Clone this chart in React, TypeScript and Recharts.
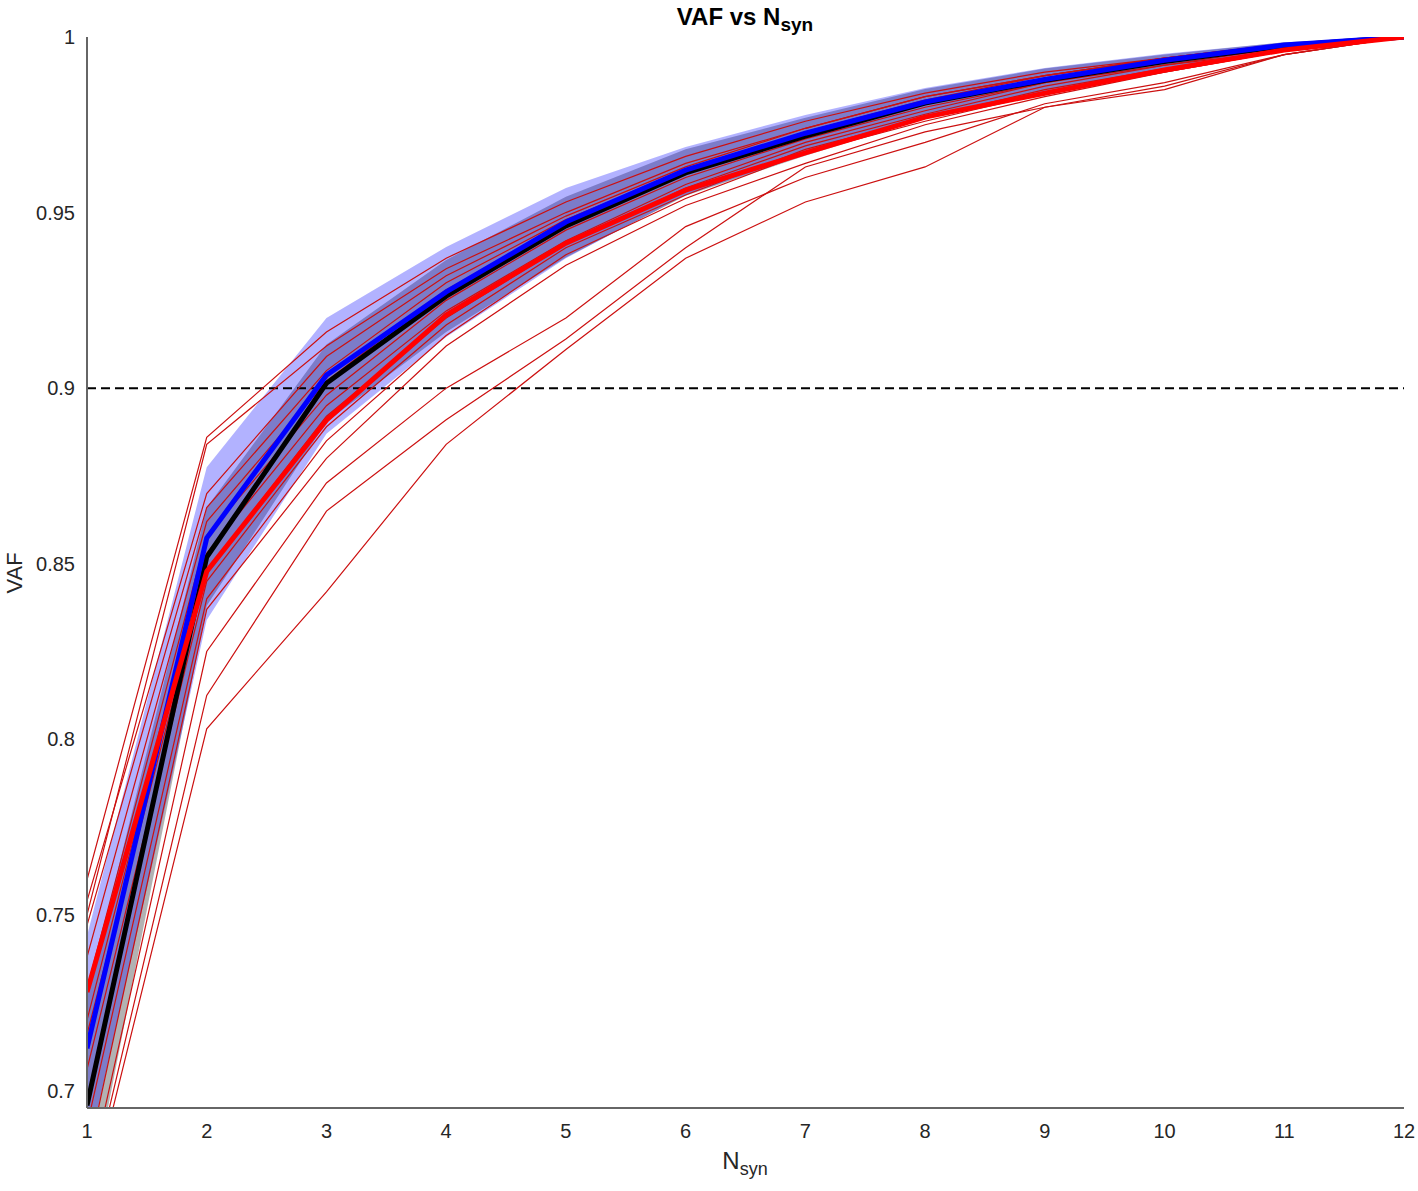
import React from 'react';
import {
  ComposedChart,
  Line,
  Area,
  XAxis,
  YAxis,
  ReferenceLine,
} from 'recharts';

const nSyn = [1, 2, 3, 4, 5, 6, 7, 8, 9, 10, 11, 12];

// group means
const blackMean = [0.6957, 0.8519, 0.9014, 0.9262, 0.9462, 0.9613, 0.9718, 0.9812, 0.9877, 0.993, 0.9975, 1];
const blueMean = [0.712, 0.8573, 0.9037, 0.9274, 0.9473, 0.9621, 0.9726, 0.9815, 0.9879, 0.9934, 0.9977, 1];
const redMean = [0.728, 0.8478, 0.8909, 0.9208, 0.9413, 0.9564, 0.967, 0.9772, 0.984, 0.9906, 0.9963, 1];

// spread bands (mean +- sd)
const grayLow = [0.6647, 0.838, 0.8904, 0.916, 0.9372, 0.9548, 0.9662, 0.9768, 0.9843, 0.991, 0.9962, 1];
const grayHigh = [0.727, 0.866, 0.9124, 0.9365, 0.9545, 0.968, 0.977, 0.9852, 0.991, 0.995, 0.9985, 1];
const blueLow = [0.681, 0.834, 0.887, 0.9146, 0.937, 0.955, 0.9665, 0.977, 0.9845, 0.9912, 0.9962, 1];
const blueHigh = [0.744, 0.8775, 0.92, 0.9402, 0.957, 0.9687, 0.9778, 0.9855, 0.9912, 0.9952, 0.9985, 1];

// individual subjects
const subject01 = [0.76, 0.886, 0.916, 0.937, 0.953, 0.966, 0.976, 0.984, 0.99, 0.994, 0.998, 1];
const subject02 = [0.75, 0.884, 0.912, 0.934, 0.95, 0.964, 0.974, 0.983, 0.989, 0.994, 0.998, 1];
const subject03 = [0.754, 0.87, 0.909, 0.932, 0.949, 0.963, 0.974, 0.983, 0.989, 0.994, 0.998, 1];
const subject04 = [0.747, 0.866, 0.905, 0.93, 0.948, 0.962, 0.973, 0.982, 0.989, 0.994, 0.997, 1];
const subject05 = [0.738, 0.862, 0.902, 0.928, 0.946, 0.961, 0.972, 0.981, 0.988, 0.993, 0.997, 1];
const subject06 = [0.729, 0.858, 0.898, 0.925, 0.945, 0.96, 0.971, 0.98, 0.987, 0.993, 0.997, 1];
const subject07 = [0.72, 0.853, 0.895, 0.922, 0.942, 0.958, 0.97, 0.979, 0.987, 0.992, 0.997, 1];
const subject08 = [0.716, 0.848, 0.892, 0.92, 0.941, 0.957, 0.969, 0.978, 0.986, 0.992, 0.996, 1];
const subject09 = [0.706, 0.845, 0.889, 0.918, 0.94, 0.955, 0.968, 0.977, 0.985, 0.991, 0.996, 1];
const subject10 = [0.69, 0.84, 0.885, 0.915, 0.938, 0.954, 0.967, 0.976, 0.984, 0.99, 0.996, 1];
const subject11 = [0.68, 0.837, 0.88, 0.912, 0.935, 0.952, 0.964, 0.975, 0.983, 0.99, 0.996, 1];
const subject12 = [0.672, 0.825, 0.873, 0.9, 0.92, 0.946, 0.96, 0.97, 0.981, 0.987, 0.995, 1];
const subject13 = [0.668, 0.8125, 0.865, 0.891, 0.914, 0.94, 0.963, 0.973, 0.98, 0.986, 0.995, 1];
const subject14 = [0.665, 0.803, 0.842, 0.884, 0.911, 0.937, 0.953, 0.963, 0.98, 0.985, 0.995, 1];

const subjects = [
  subject01, subject02, subject03, subject04, subject05, subject06, subject07,
  subject08, subject09, subject10, subject11, subject12, subject13, subject14,
];

const yTicks = [0.7, 0.75, 0.8, 0.85, 0.9, 0.95, 1];

const data = nSyn.map((n, i) => {
  const row: Record<string, any> = {
    n,
    black: blackMean[i],
    blue: blueMean[i],
    red: redMean[i],
    grayBand: [grayLow[i], grayHigh[i]],
    blueBand: [blueLow[i], blueHigh[i]],
  };
  subjects.forEach((s, k) => {
    row['s' + k] = s[i];
  });
  return row;
});

const font = 'Liberation Sans, Arial, Helvetica, sans-serif';

export default function App() {
  return (
    <div style={{ position: 'absolute', left: 0, top: 0, width: 1418, height: 1191, fontFamily: font, color: '#000' }}>
      <ComposedChart
        width={1418}
        height={1191}
        data={data}
        margin={{ top: 37, right: 14, bottom: 0, left: 0 }}
      >
        <XAxis
          dataKey="n"
          type="number"
          domain={[1, 12]}
          ticks={nSyn}
          allowDataOverflow
          height={83}
          tickLine={false}
          tickSize={0}
          tickMargin={16}
          axisLine={{ stroke: '#666', strokeWidth: 2 }}
          tick={{ fill: '#262626', fontSize: 20, fontFamily: font }}
        />
        <YAxis
          type="number"
          domain={[0.695, 1]}
          ticks={yTicks}
          allowDataOverflow
          width={87}
          tickLine={false}
          tickSize={0}
          tickMargin={12}
          axisLine={{ stroke: '#666', strokeWidth: 2 }}
          tick={{ fill: '#262626', fontSize: 20, fontFamily: font }}
        />
        <Area
          type="linear"
          dataKey="grayBand"
          stroke="none"
          fill="#000"
          fillOpacity={0.3}
          dot={false}
          activeDot={false}
          isAnimationActive={false}
        />
        <Area
          type="linear"
          dataKey="blueBand"
          stroke="none"
          fill="#0000ff"
          fillOpacity={0.3}
          dot={false}
          activeDot={false}
          isAnimationActive={false}
        />
        <ReferenceLine y={0.9} stroke="#000" strokeWidth={2} strokeDasharray="9 5" />
        {subjects.map((_, k) => (
          <Line
            key={k}
            type="linear"
            dataKey={'s' + k}
            stroke="#cc1010"
            strokeWidth={1.2}
            dot={false}
            activeDot={false}
            isAnimationActive={false}
          />
        ))}
        <Line type="linear" dataKey="black" stroke="#000" strokeWidth={5} dot={false} activeDot={false} isAnimationActive={false} />
        <Line type="linear" dataKey="blue" stroke="#0000ff" strokeWidth={5} dot={false} activeDot={false} isAnimationActive={false} />
        <Line type="linear" dataKey="red" stroke="#ff0000" strokeWidth={5} dot={false} activeDot={false} isAnimationActive={false} />
      </ComposedChart>

      <div style={{ position: 'absolute', left: 545, width: 400, top: 3, textAlign: 'center', fontWeight: 'bold', fontSize: 24, color: '#000' }}>
        VAF vs N<sub style={{ fontSize: 19 }}>syn</sub>
      </div>
      <div style={{ position: 'absolute', left: 545, width: 400, top: 1147, textAlign: 'center', fontSize: 24, color: '#262626' }}>
        N<sub style={{ fontSize: 18 }}>syn</sub>
      </div>
      <div
        style={{
          position: 'absolute',
          left: 15,
          top: 573,
          transform: 'translate(-50%, -50%) rotate(-90deg)',
          fontSize: 22,
          color: '#262626',
          whiteSpace: 'nowrap',
        }}
      >
        VAF
      </div>
    </div>
  );
}
